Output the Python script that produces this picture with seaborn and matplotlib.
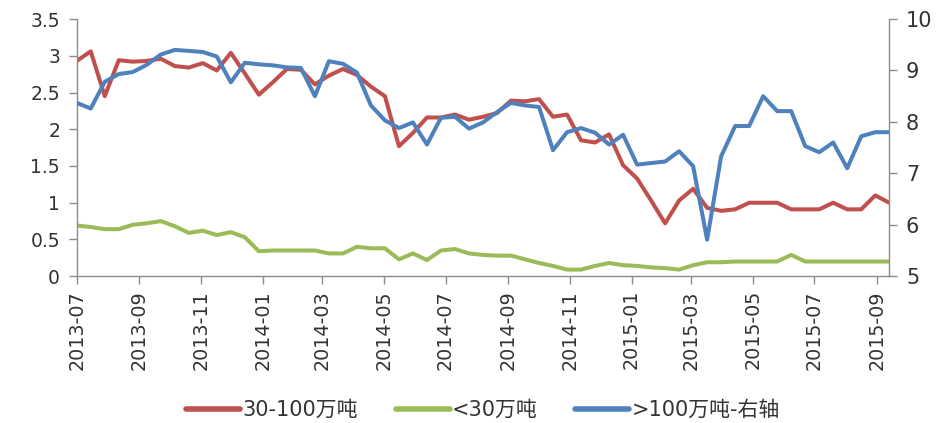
import matplotlib
matplotlib.use("Agg")
import matplotlib.pyplot as plt
import matplotlib.dates as mdates
import seaborn as sns
import pandas as pd
import numpy as np

sns.set_style("white")
plt.rcParams['font.family'] = ['DejaVu Sans', 'Noto Sans CJK SC']

# ---- data ----
dates = pd.date_range('2013-07-01', '2015-09-13', periods=59)

mid_30_100 = [2.93, 3.06, 2.45, 2.94, 2.92, 2.93, 2.96, 2.86, 2.84, 2.90,
              2.80, 3.04, 2.76, 2.47, 2.64, 2.82, 2.81, 2.61, 2.73, 2.82,
              2.74, 2.58, 2.45, 1.77, 1.95, 2.16, 2.16, 2.20, 2.13, 2.17,
              2.22, 2.39, 2.38, 2.41, 2.17, 2.20, 1.85, 1.82, 1.93, 1.51,
              1.33, 1.03, 0.72, 1.03, 1.19, 0.93, 0.89, 0.91, 1.00, 1.00,
              1.00, 0.91, 0.91, 0.91, 1.00, 0.91, 0.91, 1.10, 1.00]

small_lt30 = [0.69, 0.67, 0.64, 0.64, 0.70, 0.72, 0.75, 0.68, 0.59, 0.62,
              0.56, 0.60, 0.53, 0.34, 0.35, 0.35, 0.35, 0.35, 0.31, 0.31,
              0.40, 0.38, 0.38, 0.23, 0.31, 0.22, 0.35, 0.37, 0.31, 0.29,
              0.28, 0.28, 0.23, 0.18, 0.14, 0.09, 0.09, 0.14, 0.18, 0.15,
              0.14, 0.12, 0.11, 0.09, 0.15, 0.19, 0.19, 0.20, 0.20, 0.20,
              0.20, 0.29, 0.20, 0.20, 0.20, 0.20, 0.20, 0.20, 0.20]

large_gt100 = [8.37, 8.26, 8.78, 8.93, 8.97, 9.11, 9.31, 9.40, 9.38, 9.36,
               9.27, 8.77, 9.15, 9.12, 9.10, 9.06, 9.05, 8.50, 9.18, 9.13,
               8.96, 8.32, 8.03, 7.88, 7.99, 7.56, 8.08, 8.10, 7.87, 7.99,
               8.19, 8.37, 8.32, 8.29, 7.45, 7.80, 7.88, 7.79, 7.56, 7.75,
               7.17, 7.20, 7.23, 7.43, 7.14, 5.71, 7.33, 7.92, 7.92, 8.50,
               8.21, 8.21, 7.53, 7.41, 7.60, 7.10, 7.72, 7.80, 7.80]

labels = ['30-100万吨', '<30万吨', '>100万吨-右轴']
colors = ['#C0504D', '#9BBB59', '#4F81BD']

df = pd.DataFrame({'date': dates, 'mid': mid_30_100, 'small': small_lt30,
                   'large': large_gt100})

# ---- figure ----
fig = plt.figure(figsize=(9.45, 4.23), dpi=100)
ax = fig.add_axes([0.0812, 0.347, 0.8598, 0.608])
ax2 = ax.twinx()

lw = 2.9
sns.lineplot(data=df, x='date', y='mid', ax=ax, color=colors[0], lw=lw, label=labels[0], legend=False)
sns.lineplot(data=df, x='date', y='small', ax=ax, color=colors[1], lw=lw, label=labels[1], legend=False)
sns.lineplot(data=df, x='date', y='large', ax=ax2, color=colors[2], lw=lw, label=labels[2], legend=False)

ax.set_xlim(dates[0], dates[-1])
ax.set_ylim(0, 3.5)
ax2.set_ylim(5, 10)
ax.set_yticks(np.arange(0, 3.51, 0.5))
ax.set_yticklabels(['0', '0.5', '1', '1.5', '2', '2.5', '3', '3.5'])
ax2.set_yticks(range(5, 11))
ax.set_xlabel('')
ax.set_ylabel('')
ax2.set_ylabel('')

xt = pd.date_range('2013-07-01', '2015-09-01', freq='2MS')
ax.set_xticks(xt)
ax.xaxis.set_major_formatter(mdates.DateFormatter('%Y-%m'))

spine_c = '#8C8C8C'
txt_c = '#333333'
for a in (ax, ax2):
    a.grid(False)
    a.spines['top'].set_visible(False)
    for s in ('left', 'right', 'bottom'):
        a.spines[s].set_color(spine_c)
        a.spines[s].set_linewidth(1.0)
ax.spines['right'].set_visible(False)
ax2.spines['left'].set_visible(False)
ax2.spines['bottom'].set_visible(False)

ax.tick_params(axis='y', which='both', left=True, direction='out', length=6,
               width=1, color=spine_c, labelsize=13.5, labelcolor=txt_c, pad=6)
ax.tick_params(axis='x', which='both', bottom=True, direction='out', length=6,
               width=1, color=spine_c, labelsize=13.8, labelcolor=txt_c,
               labelrotation=90, pad=4)
ax2.tick_params(axis='y', right=True, direction='out', length=6, width=1,
                color=spine_c, labelsize=15, labelcolor=txt_c, pad=6)

handles = ax.get_lines()[:2] + ax2.get_lines()[:1]
leg = fig.legend(handles, labels, loc='center', bbox_to_anchor=(0.511, 0.031),
                 ncol=3, frameon=False, fontsize=15, handlelength=2.6,
                 handletextpad=0.1, columnspacing=1.8)
for line in leg.get_lines():
    line.set_linewidth(4)
for t in leg.get_texts():
    t.set_color(txt_c)

fig.savefig('out.png', dpi=100)
